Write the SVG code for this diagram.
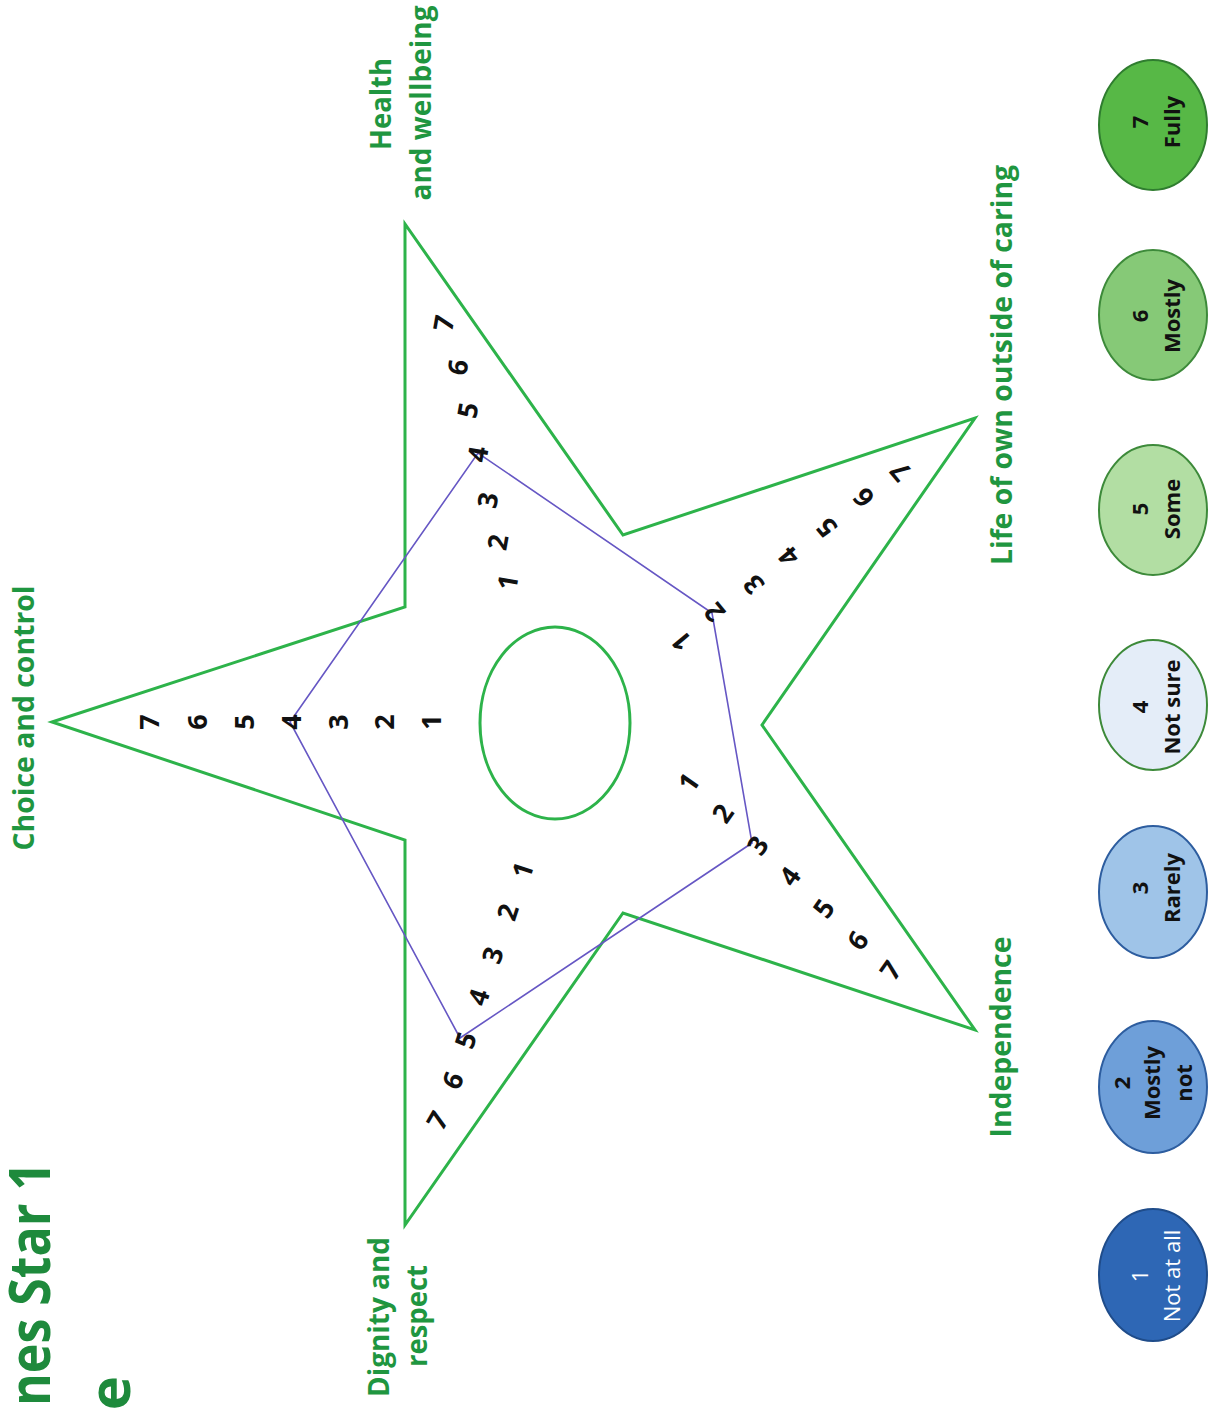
<svg xmlns="http://www.w3.org/2000/svg" width="1208" height="1410" viewBox="0 0 1208 1410">
<style>
.lbl{font-family:"Open Sans","Liberation Sans",sans-serif;font-weight:bold;fill:#1f9640;text-anchor:middle}
.num{font-family:"Open Sans","Liberation Sans",sans-serif;font-weight:bold;font-size:27px;fill:#111;text-anchor:middle;dominant-baseline:central}
.lg{font-family:"Open Sans","Liberation Sans",sans-serif;font-weight:bold;font-size:22px;fill:#111;text-anchor:middle}
.title{font-family:"Open Sans","Liberation Sans",sans-serif;font-weight:bold;fill:#1e8a3c}
</style>
<rect width="1208" height="1410" fill="#fff"/>
<g id="title">
<text class="title" font-size="58" text-anchor="end" textLength="244" lengthAdjust="spacingAndGlyphs" transform="translate(50,1162) rotate(-90)">nes Star 1</text>
<text class="title" font-size="58" text-anchor="end" transform="translate(130,1376) rotate(-90)">e</text>
</g>
<g id="star">
<polygon points="52,722 405,607 405,224 623,535 975,418 762,725 975,1030 623,913 405,1225 405,840" fill="none" stroke="#2db34a" stroke-width="3"/>
<ellipse cx="555" cy="723" rx="75" ry="96" fill="none" stroke="#2db34a" stroke-width="3"/>
</g>
<g id="data">
<polygon points="290,722 478,453 712,613 752,843 460,1038" fill="none" stroke="#6657c4" stroke-width="1.6"/>
</g>
<g id="arm-choice">
<text class="lbl" font-size="28" textLength="265" lengthAdjust="spacingAndGlyphs" transform="translate(34,718) rotate(-90)">Choice and control</text>
<text class="num" transform="translate(430,722) rotate(-90)">1</text>
<text class="num" transform="translate(383,722) rotate(-90)">2</text>
<text class="num" transform="translate(337,722) rotate(-90)">3</text>
<text class="num" transform="translate(290,722) rotate(-90)">4</text>
<text class="num" transform="translate(243,722) rotate(-90)">5</text>
<text class="num" transform="translate(196,722) rotate(-90)">6</text>
<text class="num" transform="translate(148,722) rotate(-90)">7</text>
</g>
<g id="arm-health">
<text class="lbl" font-size="28" textLength="92" lengthAdjust="spacingAndGlyphs" transform="translate(391,104) rotate(-90)">Health</text>
<text class="lbl" font-size="28" textLength="195" lengthAdjust="spacingAndGlyphs" transform="translate(431,103) rotate(-90)">and wellbeing</text>
<text class="num" transform="translate(507,582) rotate(-80)">1</text>
<text class="num" transform="translate(497,542) rotate(-80)">2</text>
<text class="num" transform="translate(487,500) rotate(-80)">3</text>
<text class="num" transform="translate(477,454) rotate(-80)">4</text>
<text class="num" transform="translate(467,410) rotate(-80)">5</text>
<text class="num" transform="translate(457,367) rotate(-80)">6</text>
<text class="num" transform="translate(443,323) rotate(-80)">7</text>
</g>
<g id="arm-life">
<text class="lbl" font-size="28" textLength="400" lengthAdjust="spacingAndGlyphs" transform="translate(1012,365) rotate(-90)">Life of own outside of caring</text>
<text class="num" transform="translate(681,642) rotate(-130)">1</text>
<text class="num" transform="translate(714,613) rotate(-130)">2</text>
<text class="num" transform="translate(753,585) rotate(-130)">3</text>
<text class="num" transform="translate(788,557) rotate(-130)">4</text>
<text class="num" transform="translate(826,528) rotate(-130)">5</text>
<text class="num" transform="translate(863,498) rotate(-130)">6</text>
<text class="num" transform="translate(900,472) rotate(-130)">7</text>
</g>
<g id="arm-independence">
<text class="lbl" font-size="28" textLength="201" lengthAdjust="spacingAndGlyphs" transform="translate(1011,1037) rotate(-90)">Independence</text>
<text class="num" transform="translate(688,782) rotate(-55)">1</text>
<text class="num" transform="translate(722,813) rotate(-55)">2</text>
<text class="num" transform="translate(757,845) rotate(-55)">3</text>
<text class="num" transform="translate(789,876) rotate(-55)">4</text>
<text class="num" transform="translate(823,908) rotate(-55)">5</text>
<text class="num" transform="translate(857,940) rotate(-55)">6</text>
<text class="num" transform="translate(890,970) rotate(-55)">7</text>
</g>
<g id="arm-dignity">
<text class="lbl" font-size="28" textLength="160" lengthAdjust="spacingAndGlyphs" transform="translate(389,1317) rotate(-90)">Dignity and</text>
<text class="lbl" font-size="28" textLength="102" lengthAdjust="spacingAndGlyphs" transform="translate(427,1316) rotate(-90)">respect</text>
<text class="num" transform="translate(522,870) rotate(-72)">1</text>
<text class="num" transform="translate(507,912) rotate(-72)">2</text>
<text class="num" transform="translate(492,955) rotate(-72)">3</text>
<text class="num" transform="translate(478,997) rotate(-72)">4</text>
<text class="num" transform="translate(465,1040) rotate(-72)">5</text>
<text class="num" transform="translate(452,1080) rotate(-65)">6</text>
<text class="num" transform="translate(437,1120) rotate(-60)">7</text>
</g>
<g id="legend-7">
<ellipse cx="1153" cy="125" rx="54" ry="65" fill="#57b846" stroke="#2f7d2f" stroke-width="2"/>
<text class="lg" transform="translate(1148,122) rotate(-90)">7</text>
<text class="lg" transform="translate(1180,122) rotate(-90)">Fully</text>
</g>
<g id="legend-6">
<ellipse cx="1153" cy="315" rx="54" ry="65" fill="#86c977" stroke="#3d8a3a" stroke-width="2"/>
<text class="lg" transform="translate(1148,316) rotate(-90)">6</text>
<text class="lg" transform="translate(1180,316) rotate(-90)">Mostly</text>
</g>
<g id="legend-5">
<ellipse cx="1153" cy="510" rx="54" ry="65" fill="#b2dea3" stroke="#3d8a3a" stroke-width="2"/>
<text class="lg" transform="translate(1148,509) rotate(-90)">5</text>
<text class="lg" transform="translate(1180,509) rotate(-90)">Some</text>
</g>
<g id="legend-4">
<ellipse cx="1153" cy="705" rx="54" ry="65" fill="#e4edf8" stroke="#3d8a3a" stroke-width="2"/>
<text class="lg" transform="translate(1148,707) rotate(-90)">4</text>
<text class="lg" transform="translate(1180,707) rotate(-90)">Not sure</text>
</g>
<g id="legend-3">
<ellipse cx="1153" cy="892" rx="54" ry="66" fill="#9fc4e8" stroke="#2d5d9f" stroke-width="2"/>
<text class="lg" transform="translate(1148,888) rotate(-90)">3</text>
<text class="lg" transform="translate(1180,888) rotate(-90)">Rarely</text>
</g>
<g id="legend-2">
<ellipse cx="1153" cy="1087" rx="54" ry="66" fill="#6e9fd9" stroke="#2d5d9f" stroke-width="2"/>
<text class="lg" transform="translate(1130,1083) rotate(-90)">2</text>
<text class="lg" transform="translate(1160,1083) rotate(-90)">Mostly</text>
<text class="lg" transform="translate(1192,1083) rotate(-90)">not</text>
</g>
<g id="legend-1">
<ellipse cx="1153" cy="1275" rx="54" ry="66" fill="#2e67b5" stroke="#1f4c8a" stroke-width="2"/>
<text class="lg" style="fill:#fff;font-weight:normal" transform="translate(1148,1276) rotate(-90)">1</text>
<text class="lg" style="fill:#fff;font-weight:normal" transform="translate(1180,1276) rotate(-90)">Not at all</text>
</g>
</svg>
